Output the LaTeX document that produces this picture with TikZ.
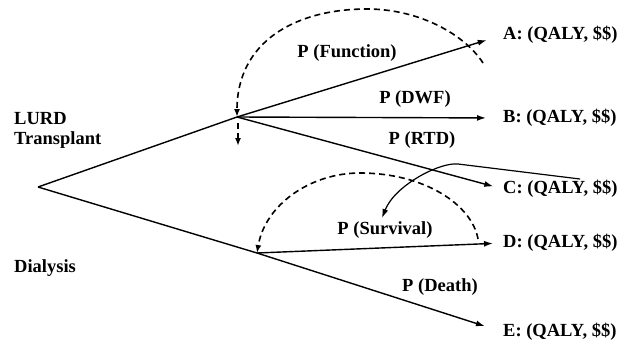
\documentclass[tikz,border=0pt]{standalone}
\usepackage{fontspec}
\setmainfont{Liberation Serif}
\usetikzlibrary{arrows.meta}
\tikzset{
  lbl/.style={font=\fontsize{18.5}{20}\selectfont\bfseries, inner sep=0pt},
  outc/.style={lbl, anchor=west},
  br/.style={line width=1.4pt, -{Latex[length=9pt,width=6pt]}},
  plainbr/.style={line width=1.4pt},
  dsh/.style={line width=1.6pt, dash pattern=on 6pt off 4pt, -{Latex[length=8pt,width=6pt]}}
}
\begin{document}
\begin{tikzpicture}[x=1pt,y=-1pt]
\useasboundingbox (0,0) rectangle (631,343);
% decision nodes
\coordinate (root) at (38,187);
\coordinate (up) at (237,117);
\coordinate (low) at (257,253);
\coordinate (upd) at (238,123);
\coordinate (updend) at (238,146);
\coordinate (arcA) at (483,63);
\coordinate (arcAtop) at (367,9);
\coordinate (arcD) at (478,239);
\coordinate (arcDtop) at (360,173);
\coordinate (cstart) at (580,179);
\coordinate (cbend) at (458,164);
\coordinate (cend) at (382,218);
% outcome labels
\node[outc] (A) at (503,35) {A: (QALY, \$\$)};
\node[outc] (B) at (503,118) {B: (QALY, \$\$)};
\node[outc] (C) at (503,189) {C: (QALY, \$\$)};
\node[outc] (D) at (503,243) {D: (QALY, \$\$)};
\node[outc] (E) at (503,332) {E: (QALY, \$\$)};
% left labels
\node[lbl, anchor=west, align=left] (lurd) at (14,130) {LURD\\Transplant};
\node[lbl, anchor=west] (dial) at (14,268) {Dialysis};
% branches
\draw[plainbr] (root) -- (up);
\draw[plainbr] (root) -- (low);
\draw[br, shorten >=17pt] (up) -- (A.west);
\draw[br, shorten >=17pt] (up) -- (B.west);
\draw[br, shorten >=10pt] (up) -- (C.west);
\draw[br, shorten >=10pt] (low) -- (D.west);
\draw[br, shorten >=19pt] (low) -- (E.west);
% probability labels
\node[lbl] (pf) at (347,53) {P (Function)};
\node[lbl] (pdwf) at (415,99) {P (DWF)};
\node[lbl] (prtd) at (422,140) {P (RTD)};
\node[lbl] (psurv) at (385,230) {P (Survival)};
\node[lbl] (pdeath) at (440,287) {P (Death)};
% dashed arcs
\draw[dsh] (arcA) .. controls (465,35) and (420,9) .. (arcAtop)
  .. controls (295,9) and (237,42) .. (up);
\draw[dsh] (upd) -- (updend);
\draw[dsh] (arcD) .. controls (472,205) and (425,173) .. (arcDtop)
  .. controls (310,173) and (265,205) .. (low);
% solid curved arrow
\draw[line width=1.2pt, -{Latex[length=9pt,width=6pt]}] (cstart) -- (cbend)
  .. controls (440,162) and (395,185) .. (cend);
\end{tikzpicture}
\end{document}
